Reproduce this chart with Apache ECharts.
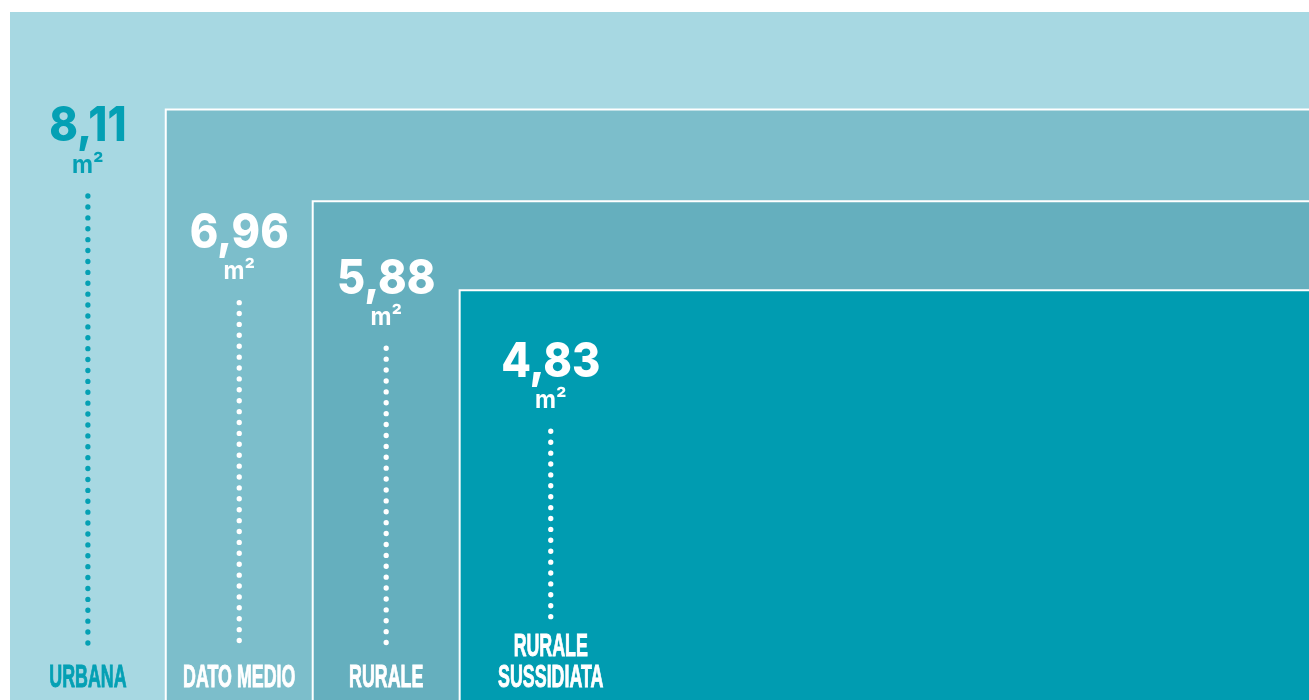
<!DOCTYPE html>
<html>
<head>
<meta charset="utf-8">
<script src="https://cdn.jsdelivr.net/npm/echarts@6/dist/echarts.min.js"></script>
<style>
    html, body { margin: 0; padding: 0; background: #fff; }
    #chart { width: 1309px; height: 700px; }
</style>
</head>
<body>
<div id="chart"></div>
<script>
// data
const categories = ["URBANA", "DATO MEDIO", "RURALE", "RURALE\nSUSSIDIATA"];
const values = [8.11, 6.96, 5.88, 4.83];
const unit = "m²";

// look
const fills = ["#a7d8e2", "#7cbecb", "#65afbe", "#009cb1"];
const inks = ["#04a0b4", "#ffffff", "#ffffff", "#ffffff"];
const valueDrop = [115, 124, 78, 72]; // px from box top to the big number

const chart = echarts.init(document.getElementById("chart"));

function renderItem(params, api) {
    const i = api.value(0);
    const v = api.value(1);
    const cs = params.coordSys;
    const topY = api.coord([i, v])[1];
    const bottom = api.coord([i, 0])[1];
    const left = i === 0 ? cs.x : api.coord([i, v])[0];
    const right = cs.x + cs.width;
    const nextLeft = api.coord([i + 1, 0])[0];
    const cx = i < values.length - 1
        ? (left + nextLeft) / 2
        : left + (nextLeft - left) * 0.62;
    const cy = topY + valueDrop[i];
    const lines = categories[i].split("\n");
    const ink = inks[i];

    const children = [
        {
            type: "rect",
            shape: { x: left, y: topY, width: right - left, height: bottom - topY },
            style: { fill: fills[i] },
        },
    ];
    if (i > 0) {
        children.push({
            type: "polyline",
            shape: { points: [[left, bottom], [left, topY], [right, topY]] },
            style: { stroke: "#fff", lineWidth: 2, fill: null },
        });
    }
    children.push(
        {
            type: "text",
            x: cx,
            y: cy,
            scaleX: 0.9,
            style: {
                text: v.toFixed(2).replace(".", ","),
                fill: ink,
                fontSize: 48,
                fontWeight: 800,
                fontFamily: "Inter",
                align: "center",
                verticalAlign: "middle",
            },
        },
        {
            type: "text",
            x: cx,
            y: cy + 38,
            scaleX: 0.92,
            style: {
                text: unit,
                fill: ink,
                fontSize: 25,
                fontWeight: 700,
                fontFamily: "Inter",
                align: "center",
                verticalAlign: "middle",
            },
        },
        {
            type: "line",
            shape: {
                x1: cx, y1: cy + 69,
                x2: cx, y2: bottom - 55 - (lines.length - 1) * 25,
            },
            style: {
                stroke: ink,
                lineWidth: 5.3,
                lineCap: "round",
                lineDash: [0.1, 10.8],
            },
        }
    );
    lines.forEach((txt, j) => {
        children.push({
            type: "text",
            x: cx,
            y: bottom - 22 - (lines.length - 1 - j) * 31,
            scaleX: 0.575,
            style: {
                text: txt,
                fill: ink,
                stroke: ink,
                lineWidth: 0.9,
                fontSize: 31,
                fontWeight: "bold",
                fontFamily: "Liberation Sans",
                align: "center",
                verticalAlign: "middle",
            },
        });
    });

    return { type: "group", children: children };
}

const option = {
    animation: false,
    grid: { left: 10, right: 0, top: 12, bottom: 0 },
    xAxis: { type: "value", min: -0.06, max: 8.78, show: false },
    yAxis: { type: "value", min: 0, max: 8.11, show: false },
    series: [
        {
            type: "custom",
            silent: true,
            renderItem: renderItem,
            data: values.map((v, i) => [i, v]),
        },
    ],
};

chart.setOption(option);
</script>
</body>
</html>
